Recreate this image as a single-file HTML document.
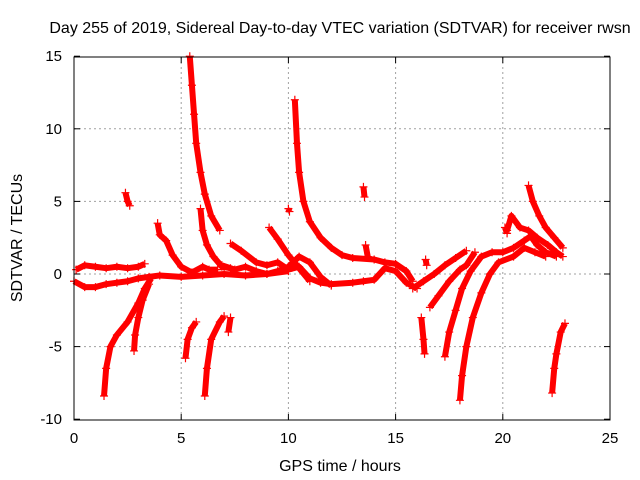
<!DOCTYPE html>
<html><head><meta charset="utf-8"><style>
body{margin:0;background:#fff}
svg{display:block;font-family:"Liberation Sans",sans-serif}
</style></head><body>
<svg id="c" width="640" height="480">
<text x="340" y="33" text-anchor="middle" font-size="16">Day 255 of 2019, Sidereal Day-to-day VTEC variation (SDTVAR) for receiver rwsn</text>
<text x="340" y="471" text-anchor="middle" font-size="16">GPS time / hours</text>
<text x="22" y="238" text-anchor="middle" font-size="16" transform="rotate(-90 22 238)">SDTVAR / TECUs</text>
<g id="grid"></g>
<g id="axes"></g>
<g id="data"></g>
<rect x="74" y="57" width="536" height="363" fill="none" stroke="#000"/>
</svg>
<script>
const xTicks=[0,5,10,15,20,25];
const yTicks=[-10,-5,0,5,10,15];
const tracks=[
[[0.1,0.3],[0.5,0.6],[1,0.5],[1.5,0.4],[2,0.5],[2.5,0.4],[3,0.5],[3.3,0.7]],
[[0,-0.5],[0.5,-0.9],[1,-0.9],[1.5,-0.7],[2,-0.6],[2.5,-0.5],[3,-0.3],[3.5,-0.2],[4,-0.1],[5,-0.2],[6,-0.1],[7,0],[8,-0.1],[9,0],[10,0.2]],
[[1.4,-8.4],[1.5,-6.5],[1.7,-5],[2,-4.2],[2.5,-3.3],[3,-2],[3.3,-1],[3.6,-0.3]],
[[2.8,-5.3],[2.85,-4.2],[3,-3],[3.2,-1.8],[3.5,-0.7]],
[[2.4,5.6],[2.5,5],[2.6,4.7]],
[[3.9,3.5],[4,2.7],[4.3,2.3],[4.6,1.3],[5,0.5],[5.5,0.1],[6,0.5],[6.3,0.3],[6.7,0.3]],
[[5.4,15],[5.5,13],[5.6,11],[5.7,9],[5.9,7],[6.1,5.5],[6.4,4],[6.8,3]],
[[5.9,4.5],[6,3],[6.2,2],[6.5,1.2],[6.9,0.5],[7.3,0.4]],
[[5.2,-5.8],[5.3,-4.5],[5.5,-3.7],[5.7,-3.3]],
[[6.1,-8.4],[6.2,-6.5],[6.4,-4.5],[6.8,-3.3],[7,-2.9]],
[[7.2,-4],[7.3,-3]],
[[7.3,2.1],[7.8,1.6],[8.5,0.8],[9,0.6],[9.5,0.8],[10,0.3],[10.5,0.5],[11,-0.3],[11.5,-0.6],[12,-0.7],[13,-0.6],[13.5,-0.5],[14,-0.4],[14.5,0.4],[15,0.2],[15.5,-0.6],[16,-1]],
[[6.9,0.6],[7.5,0.3],[8,0.5],[8.5,0.2],[9,0],[9.5,0.2],[10,0.5],[10.5,1.2],[11,0.8],[11.5,-0.2],[12,-0.8]],
[[9.1,3.2],[9.5,2.4],[10,1.3],[10.5,0.4],[11,-0.5]],
[[10.3,12],[10.4,9],[10.5,7],[10.7,5],[11,3.6],[11.5,2.5],[12,1.8],[12.5,1.3],[13,1.1],[14,1],[14.5,0.8],[15,0.7],[15.5,0.2],[15.8,-0.5]],
[[10,4.5],[10.05,4.3]],
[[13.5,6],[13.55,5.3]],
[[13.6,2],[13.7,1.2]],
[[16.4,1],[16.45,0.6]],
[[16.2,-3],[16.3,-4.5],[16.35,-5.5]],
[[15.8,-1],[16.3,-0.5],[16.8,0],[17.3,0.6],[17.8,1.1],[18.3,1.6]],
[[16.6,-2.3],[17,-1.5],[17.5,-0.5],[18,0.3],[18.3,0.6],[18.7,1.5]],
[[17.3,-5.7],[17.5,-4],[17.8,-2.5],[18.1,-1],[18.5,0.2],[19,1.2],[19.5,1.5],[20,1.5],[20.5,1.8],[21,2.3],[21.3,2.6],[21.6,2],[22,1.5],[22.5,1.2]],
[[18,-8.7],[18.1,-7],[18.3,-5],[18.6,-3],[19,-1.3],[19.4,0],[19.8,0.8],[20.5,1.2],[21,1.8],[21.5,1.5],[22,1.2]],
[[20.2,3],[20.4,4],[20.8,3.2],[21.2,3],[21.6,2.5],[22.1,2],[22.5,1.5],[22.8,1.2]],
[[21.2,6.1],[21.4,5],[21.7,4],[22,3.2],[22.4,2.5],[22.8,1.8]],
[[22.3,-8.2],[22.4,-6.5],[22.5,-5.5],[22.7,-4],[22.9,-3.4]],
[[20.1,3.2],[20.2,2.8]]
];
const NS="http://www.w3.org/2000/svg";
const X=v=>74+v*(536/25), Y=v=>274-v*(363/25);
function mk(t,a,p){const e=document.createElementNS(NS,t);for(const k in a)e.setAttribute(k,a[k]);p.appendChild(e);return e;}
const g=document.getElementById('grid'),ax=document.getElementById('axes'),d=document.getElementById('data');
xTicks.forEach(t=>{
 if(t>0&&t<25){const l=mk('line',{x1:X(t),x2:X(t),y1:57,y2:420,stroke:'#a0a0a0','stroke-dasharray':'2,3'},g);
 
 }
 mk('line',{x1:X(t),x2:X(t),y1:420,y2:414,stroke:'#000'},ax);
 mk('line',{x1:X(t),x2:X(t),y1:57,y2:63,stroke:'#000'},ax);
 const tx=mk('text',{x:X(t),y:443,'text-anchor':'middle','font-size':15},ax);tx.textContent=t;
 
 
});
yTicks.forEach(t=>{
 if(t>-10&&t<15){const l=mk('line',{x1:74,x2:610,y1:Y(t),y2:Y(t),stroke:'#a0a0a0','stroke-dasharray':'2,3'},g);
 
 }
 mk('line',{x1:74,x2:80,y1:Y(t),y2:Y(t),stroke:'#000'},ax);
 mk('line',{x1:610,x2:604,y1:Y(t),y2:Y(t),stroke:'#000'},ax);
 const tx=mk('text',{x:62,y:Y(t)+5,'text-anchor':'end','font-size':15},ax);tx.textContent=t;
 
 
});
tracks.forEach(tr=>{
 const pl=mk('polyline',{points:tr.map(p=>X(p[0])+','+Y(p[1])).join(' '),fill:'none',stroke:'#f00','stroke-width':6,'stroke-linejoin':'round'},d);
 
 
 tr.forEach(p=>{
  const x=X(p[0]),y=Y(p[1]);
  const m=mk('path',{d:`M${x-4},${y}H${x+4}M${x},${y-4}V${y+4}`,stroke:'#f00','stroke-width':1.2},d);
  
  
 });
});
</script>
</body></html>
